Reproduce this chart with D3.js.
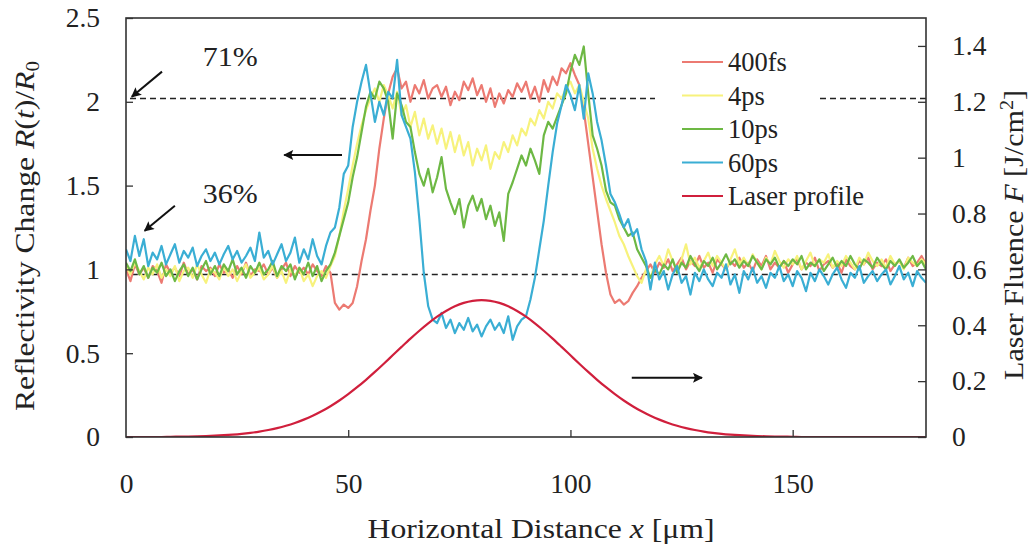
<!DOCTYPE html>
<html>
<head>
<meta charset="utf-8">
<script src="https://cdn.jsdelivr.net/npm/d3@7"></script>
<style>
  html, body { margin: 0; padding: 0; background: #fff; }
  svg { display: block; }
  text { font-family: "Liberation Serif", "Times New Roman", serif; fill: #222; }
</style>
</head>
<body>
<svg id="chart" width="1030" height="554"></svg>
<script>
// ---------------- DATA ----------------
const xStart = 0, xStep = 1; // µm, sample positions for reflectivity traces
const seriesNames = ["400fs", "4ps", "10ps", "60ps"];
const laserName = "Laser profile";

const r400fs = [
  1.00,0.93,1.03,0.97,1.01,0.95,1.02,0.99,0.92,1.03,
  0.98,1.01,0.96,1.04,0.97,1.00,0.94,1.02,0.99,1.01,
  0.96,1.03,0.98,1.00,0.95,1.02,0.97,1.04,0.96,1.00,
  0.99,1.03,0.97,1.01,0.95,1.00,1.04,0.96,1.02,0.98,
  1.01,0.97,1.03,0.99,0.96,1.02,0.98,
  0.80,0.76,0.79,0.77,0.80,0.90,1.05,1.18,1.35,1.50,1.72,1.90,2.05,2.15,2.20,2.08,2.12,2.00,2.10,2.05,2.13,2.02,2.08,
  2.10,2.03,2.09,1.98,2.06,2.01,2.12,2.07,2.14,2.04,
  2.10,2.00,2.08,1.97,2.05,1.99,2.07,2.03,2.11,2.06,
  2.12,2.02,2.09,2.00,2.13,2.06,2.15,2.10,2.20,2.17,
  2.23,2.16,2.10,1.95,1.75,1.55,1.35,1.15,0.98,0.85,
  0.80,0.82,0.79,0.81,0.86,0.90,0.95,0.99,1.03,0.98,
  1.04,1.01,1.06,0.99,1.03,1.07,1.00,1.05,1.02,1.08,
  1.01,1.04,0.98,1.06,1.03,1.00,1.05,1.02,1.07,1.01,
  1.04,0.99,1.06,1.02,1.08,1.00,1.04,1.01,1.05,0.98,
  1.03,1.06,1.00,1.04,1.02,1.07,0.99,1.03,1.05,1.01,
  1.04,0.98,1.06,1.02,1.00,1.05,1.03,1.07,1.00,1.04,
  1.02,1.06,0.99,1.03,1.05,1.01,1.07,1.02,1.04,1.08,1.03
];
const r4ps = [
  1.02,0.97,1.04,0.99,0.94,1.01,0.97,1.03,0.95,1.00,
  0.96,1.02,0.93,0.99,1.01,0.95,1.03,0.97,0.92,1.00,
  0.98,0.94,1.02,0.96,1.00,0.93,0.99,1.03,0.95,0.98,
  1.01,0.94,0.97,1.02,0.95,0.99,0.92,1.00,0.96,1.01,
  0.93,0.97,0.90,0.96,0.99,0.95,1.02,
  1.08,1.20,1.35,1.48,1.62,1.75,1.86,1.95,2.02,2.08,2.00,2.10,2.04,1.96,2.06,1.92,1.98,1.85,1.94,1.80,1.90,1.78,1.86,
  1.75,1.84,1.72,1.82,1.70,1.80,1.68,1.76,1.62,1.72,
  1.65,1.74,1.60,1.70,1.66,1.76,1.70,1.80,1.74,1.84,
  1.80,1.90,1.86,1.95,1.90,2.00,1.96,2.05,2.02,2.08,
  2.12,2.05,2.10,2.00,1.90,1.72,1.60,1.50,1.42,1.35,
  1.28,1.20,1.15,1.08,1.02,0.96,0.92,1.00,0.95,1.03,
  1.08,1.02,1.12,1.05,0.99,1.06,1.15,1.03,1.07,1.01,
  1.05,1.10,1.02,1.08,1.04,1.00,1.06,1.12,1.03,1.07,
  1.02,1.09,1.04,1.00,1.07,1.03,1.11,1.05,1.01,1.06,
  1.03,1.08,1.00,1.05,1.10,1.02,1.06,1.04,1.09,1.01,
  1.05,1.02,1.08,1.04,1.00,1.07,1.03,1.10,1.05,1.02,
  1.06,1.01,1.08,1.03,1.05,1.00,1.07,1.04,1.02,1.06,1.03
];
const r10ps = [
  1.04,0.99,1.06,0.97,1.02,0.95,1.01,0.98,1.04,0.96,
  1.00,0.93,0.99,1.03,0.96,1.01,0.94,1.00,1.05,0.97,
  1.02,0.96,1.03,0.99,1.06,0.97,1.01,0.95,1.02,0.98,
  1.04,0.97,1.00,1.05,0.96,1.02,0.99,1.03,0.94,1.01,
  0.97,1.04,0.96,1.02,0.93,0.99,1.03,
  1.10,1.20,1.30,1.40,1.55,1.67,1.82,1.97,2.06,2.02,2.12,2.08,2.00,1.78,2.05,1.98,1.88,1.85,1.70,1.57,1.50,1.60,1.46,
  1.55,1.67,1.48,1.40,1.33,1.42,1.25,1.38,1.44,1.35,
  1.42,1.30,1.38,1.26,1.34,1.17,1.45,1.52,1.60,1.68,
  1.62,1.72,1.65,1.57,1.80,1.88,1.84,1.91,1.98,2.05,
  2.18,2.28,2.22,2.33,2.05,1.80,1.72,1.62,1.47,1.40,
  1.38,1.30,1.25,1.20,1.22,1.12,1.07,1.02,0.95,1.00,
  0.97,1.03,1.00,1.06,0.98,1.04,1.01,1.08,1.03,0.99,
  1.05,1.02,1.07,1.00,1.04,1.09,1.03,1.06,1.01,1.05,
  1.02,1.08,1.04,1.00,1.06,1.03,1.07,1.01,1.05,1.02,
  1.06,1.03,1.08,1.00,1.04,1.02,1.06,0.99,1.03,1.07,
  1.01,1.05,1.02,1.08,1.03,1.00,1.06,1.04,1.01,1.07,
  1.03,1.00,1.05,1.02,1.06,1.01,1.04,1.08,1.02,1.05,1.00
];
const r60ps = [
  1.12,1.05,1.20,1.08,1.18,1.02,1.10,1.06,1.14,1.03,
  1.09,1.15,1.04,1.11,1.07,1.13,1.02,1.08,1.12,1.05,
  1.10,1.03,1.09,1.14,1.06,1.11,1.04,1.08,1.13,1.05,
  1.22,1.07,1.11,1.03,1.09,1.15,1.05,1.10,1.19,1.04,
  1.12,1.06,1.18,1.08,1.03,1.14,1.22,
  1.25,1.37,1.57,1.62,1.85,2.00,2.12,2.22,2.05,1.88,2.00,1.92,2.06,2.02,2.25,1.92,1.85,1.78,1.58,1.30,0.98,0.78,0.70,
  0.68,0.74,0.65,0.70,0.62,0.68,0.64,0.71,0.63,0.67,
  0.60,0.66,0.70,0.64,0.68,0.62,0.72,0.58,0.66,0.70,
  0.72,0.82,0.95,1.12,1.29,1.50,1.70,1.87,1.98,2.10,
  2.04,1.95,2.10,1.90,2.17,2.05,1.88,1.77,1.62,1.45,
  1.40,1.33,1.25,1.30,1.20,1.24,1.12,1.05,0.88,1.04,
  0.94,0.99,0.88,0.97,1.02,0.92,0.96,0.85,0.98,0.93,
  1.00,0.94,0.90,0.98,0.95,1.03,0.91,0.97,0.86,0.99,
  0.94,1.01,0.92,0.96,0.89,0.98,0.95,1.02,0.93,0.97,
  0.90,0.99,0.95,0.87,0.98,0.93,1.00,0.96,0.91,0.97,
  1.01,0.94,0.89,0.98,0.95,1.02,0.92,0.96,0.99,0.93,
  0.97,1.00,0.91,0.96,1.02,0.94,0.98,0.90,0.99,0.95,0.92
];
// Laser fluence (J/cm^2), sampled every 2 µm from 0 to 180
const laserStep = 2;
const laserProfile = [
  0,0,0,0,0,0.0008,0.0012,0.0017,0.0024,0.0034,
  0.0047,0.0064,0.0086,0.0114,0.0150,0.0195,0.0251,0.0320,0.0403,0.0503,
  0.0622,0.0760,0.0920,0.1103,0.1307,0.1534,0.1782,0.2048,0.2330,0.2624,
  0.2925,0.3226,0.3522,0.3805,0.4069,0.4307,0.4511,0.4678,0.4800,0.4875,
  0.4900,
  0.4875,0.4800,0.4678,0.4511,0.4307,0.4069,0.3805,0.3522,0.3226,0.2925,
  0.2624,0.2330,0.2048,0.1782,0.1534,0.1307,0.1103,0.0920,0.0760,0.0622,
  0.0503,0.0403,0.0320,0.0251,0.0195,0.0150,0.0114,0.0086,0.0064,0.0047,
  0.0034,0.0024,0.0017,0.0012,0.0008,
  0,0,0,0,0,0,0,0,0,0,0,0,0,0,0
];
const xTicks = [0, 50, 100, 150];
const yLeftTicks = [0, 0.5, 1, 1.5, 2, 2.5];
const yRightTicks = [0, 0.2, 0.4, 0.6, 0.8, 1, 1.2, 1.4];
const thresholdLevels = [2.02, 0.97];       // dashed reference levels (left axis)
const thresholdLabels = ["71%", "36%"];
const seriesColors = ["#ec7a72", "#f7f27c", "#6db844", "#3aaed4"];
const laserColor = "#d01f3c";

// ---------------- SCALES ----------------
const svg = d3.select("#chart");
const L = 126, R = 926, T = 18, B = 437;
const x = d3.scaleLinear().domain([0, 180]).range([L, R]);
const yL = d3.scaleLinear().domain([0, 2.5]).range([B, T]);
const yR = d3.scaleLinear().domain([0, 1.5]).range([B, T]);
const font = "Liberation Serif";

// ---------------- TRACES ----------------
const traces = [r400fs, r4ps, r10ps, r60ps];
svg.append("clipPath").attr("id", "clip")
  .append("rect").attr("x", L).attr("y", T).attr("width", R - L).attr("height", B - T);
const plot = svg.append("g").attr("clip-path", "url(#clip)");

// dashed reference lines
const legendBox = {x0: 655, x1: 817};
plot.append("line").attr("x1", x(0.9)).attr("x2", R).attr("y1", yL(thresholdLevels[0])).attr("y2", yL(thresholdLevels[0]))
  .attr("stroke", "#222").attr("stroke-width", 1.6).attr("stroke-dasharray", "6,4");
plot.append("line").attr("x1", x(1.3)).attr("x2", R).attr("y1", yL(thresholdLevels[1])).attr("y2", yL(thresholdLevels[1]))
  .attr("stroke", "#222").attr("stroke-width", 1.4).attr("stroke-dasharray", "6,4");

const lineL = d3.line().x((d, i) => x(xStart + i * xStep)).y(d => yL(d));
traces.forEach((arr, k) => {
  plot.append("path").datum(arr).attr("d", lineL)
    .attr("fill", "none").attr("stroke", seriesColors[k]).attr("stroke-width", 2.2)
    .attr("stroke-linejoin", "round");
});
const lineR = d3.line().x((d, i) => x(i * laserStep)).y(d => yR(d)).curve(d3.curveMonotoneX);
plot.append("path").datum(laserProfile).attr("d", lineR)
  .attr("fill", "none").attr("stroke", laserColor).attr("stroke-width", 2.2);

// ---------------- FRAME & AXES ----------------
svg.append("rect").attr("x", L).attr("y", T).attr("width", R - L).attr("height", B - T)
  .attr("fill", "none").attr("stroke", "#333").attr("stroke-width", 1.6);

const axL = svg.append("g").attr("transform", `translate(${L},0)`)
  .call(d3.axisLeft(yL).tickValues(yLeftTicks).tickSizeInner(-7).tickSizeOuter(0).tickPadding(26).tickFormat(d3.format("~g")));
const axR = svg.append("g").attr("transform", `translate(${R},0)`)
  .call(d3.axisRight(yR).tickValues(yRightTicks).tickSizeInner(-8).tickSizeOuter(0).tickPadding(26).tickFormat(d3.format("~g")));
const axB = svg.append("g").attr("transform", `translate(0,${B})`)
  .call(d3.axisBottom(x).tickValues(xTicks).tickSizeInner(-7).tickSizeOuter(0).tickPadding(36).tickFormat(d3.format("d")));
[axL, axR, axB].forEach(g => {
  g.select(".domain").remove();
  g.selectAll(".tick line").attr("stroke", "#333").attr("stroke-width", 1.3);
  g.selectAll(".tick text").attr("font-family", font).attr("font-size", 27.5).attr("fill", "#222");
});
axB.selectAll(".tick").filter(d => d === 0).select("line").remove();

// ---------------- TITLES ----------------
svg.append("text").attr("x", 541).attr("y", 538).attr("text-anchor", "middle")
  .attr("font-size", 27).attr("font-family", font)
  .attr("textLength", 347).attr("lengthAdjust", "spacingAndGlyphs")
  .html('Horizontal Distance <tspan font-style="italic">x</tspan> [μm]');

svg.append("text").attr("transform", "translate(34,236) rotate(-90)").attr("text-anchor", "middle")
  .attr("font-size", 27).attr("font-family", font)
  .attr("textLength", 350).attr("lengthAdjust", "spacingAndGlyphs")
  .html('Reflectivity Change <tspan font-style="italic">R</tspan>(<tspan font-style="italic">t</tspan>)/<tspan font-style="italic">R</tspan><tspan font-size="18" dy="5">0</tspan>');

svg.append("text").attr("transform", "translate(1023,235) rotate(-90)").attr("text-anchor", "middle")
  .attr("font-size", 27).attr("font-family", font)
  .attr("textLength", 290).attr("lengthAdjust", "spacingAndGlyphs")
  .html('Laser Fluence <tspan font-style="italic">F</tspan> [J/cm<tspan font-size="18" dy="-10">2</tspan><tspan dy="10">]</tspan>');

// ---------------- LEGEND ----------------
const legend = svg.append("g");
legend.append("rect").attr("x", legendBox.x0).attr("y", 44).attr("width", legendBox.x1 - legendBox.x0).attr("height", 170).attr("fill", "#fff");
const legItems = seriesNames.map((n, i) => ({name: n, color: seriesColors[i]})).concat([{name: laserName, color: laserColor}]);
const legY = d3.scaleLinear().domain([0, 4]).range([62, 196]);
legItems.forEach((it, i) => {
  legend.append("line").attr("x1", 682).attr("x2", 723).attr("y1", legY(i)).attr("y2", legY(i))
    .attr("stroke", it.color).attr("stroke-width", 2);
  legend.append("text").attr("x", 728).attr("y", legY(i)).attr("dy", "0.35em")
    .attr("font-size", 26.5).attr("font-family", font).text(it.name);
});

// ---------------- ANNOTATIONS ----------------
const arrows = [
  {from: [8.1, 2.18], to: [1.3, 2.03], axis: "L"},
  {from: [11.0, 1.38], to: [4.2, 1.23], axis: "L"},
  {from: [48.6, 1.683], to: [35.6, 1.683], axis: "L"},
  {from: [113.8, 0.212], to: [129.6, 0.212], axis: "R"}
];
svg.append("defs").append("marker").attr("id", "ah").attr("viewBox", "0 0 10 10")
  .attr("refX", 9).attr("refY", 5).attr("markerWidth", 14).attr("markerHeight", 10)
  .attr("markerUnits", "userSpaceOnUse").attr("orient", "auto")
  .append("path").attr("d", "M0,0 L10,5 L0,10 L2,5 Z").attr("fill", "#111");
arrows.forEach(a => {
  const ys = a.axis === "L" ? yL : yR;
  svg.append("line").attr("x1", x(a.from[0])).attr("y1", ys(a.from[1]))
    .attr("x2", x(a.to[0])).attr("y2", ys(a.to[1]))
    .attr("stroke", "#111").attr("stroke-width", 2).attr("marker-end", "url(#ah)");
});
svg.append("text").attr("x", x(17.3)).attr("y", yL(2.215)).attr("font-size", 27).attr("font-family", font)
  .attr("textLength", 55).attr("lengthAdjust", "spacingAndGlyphs").text(thresholdLabels[0]);
svg.append("text").attr("x", x(17.3)).attr("y", yL(1.395)).attr("font-size", 27).attr("font-family", font)
  .attr("textLength", 55).attr("lengthAdjust", "spacingAndGlyphs").text(thresholdLabels[1]);
</script>
</body>
</html>
